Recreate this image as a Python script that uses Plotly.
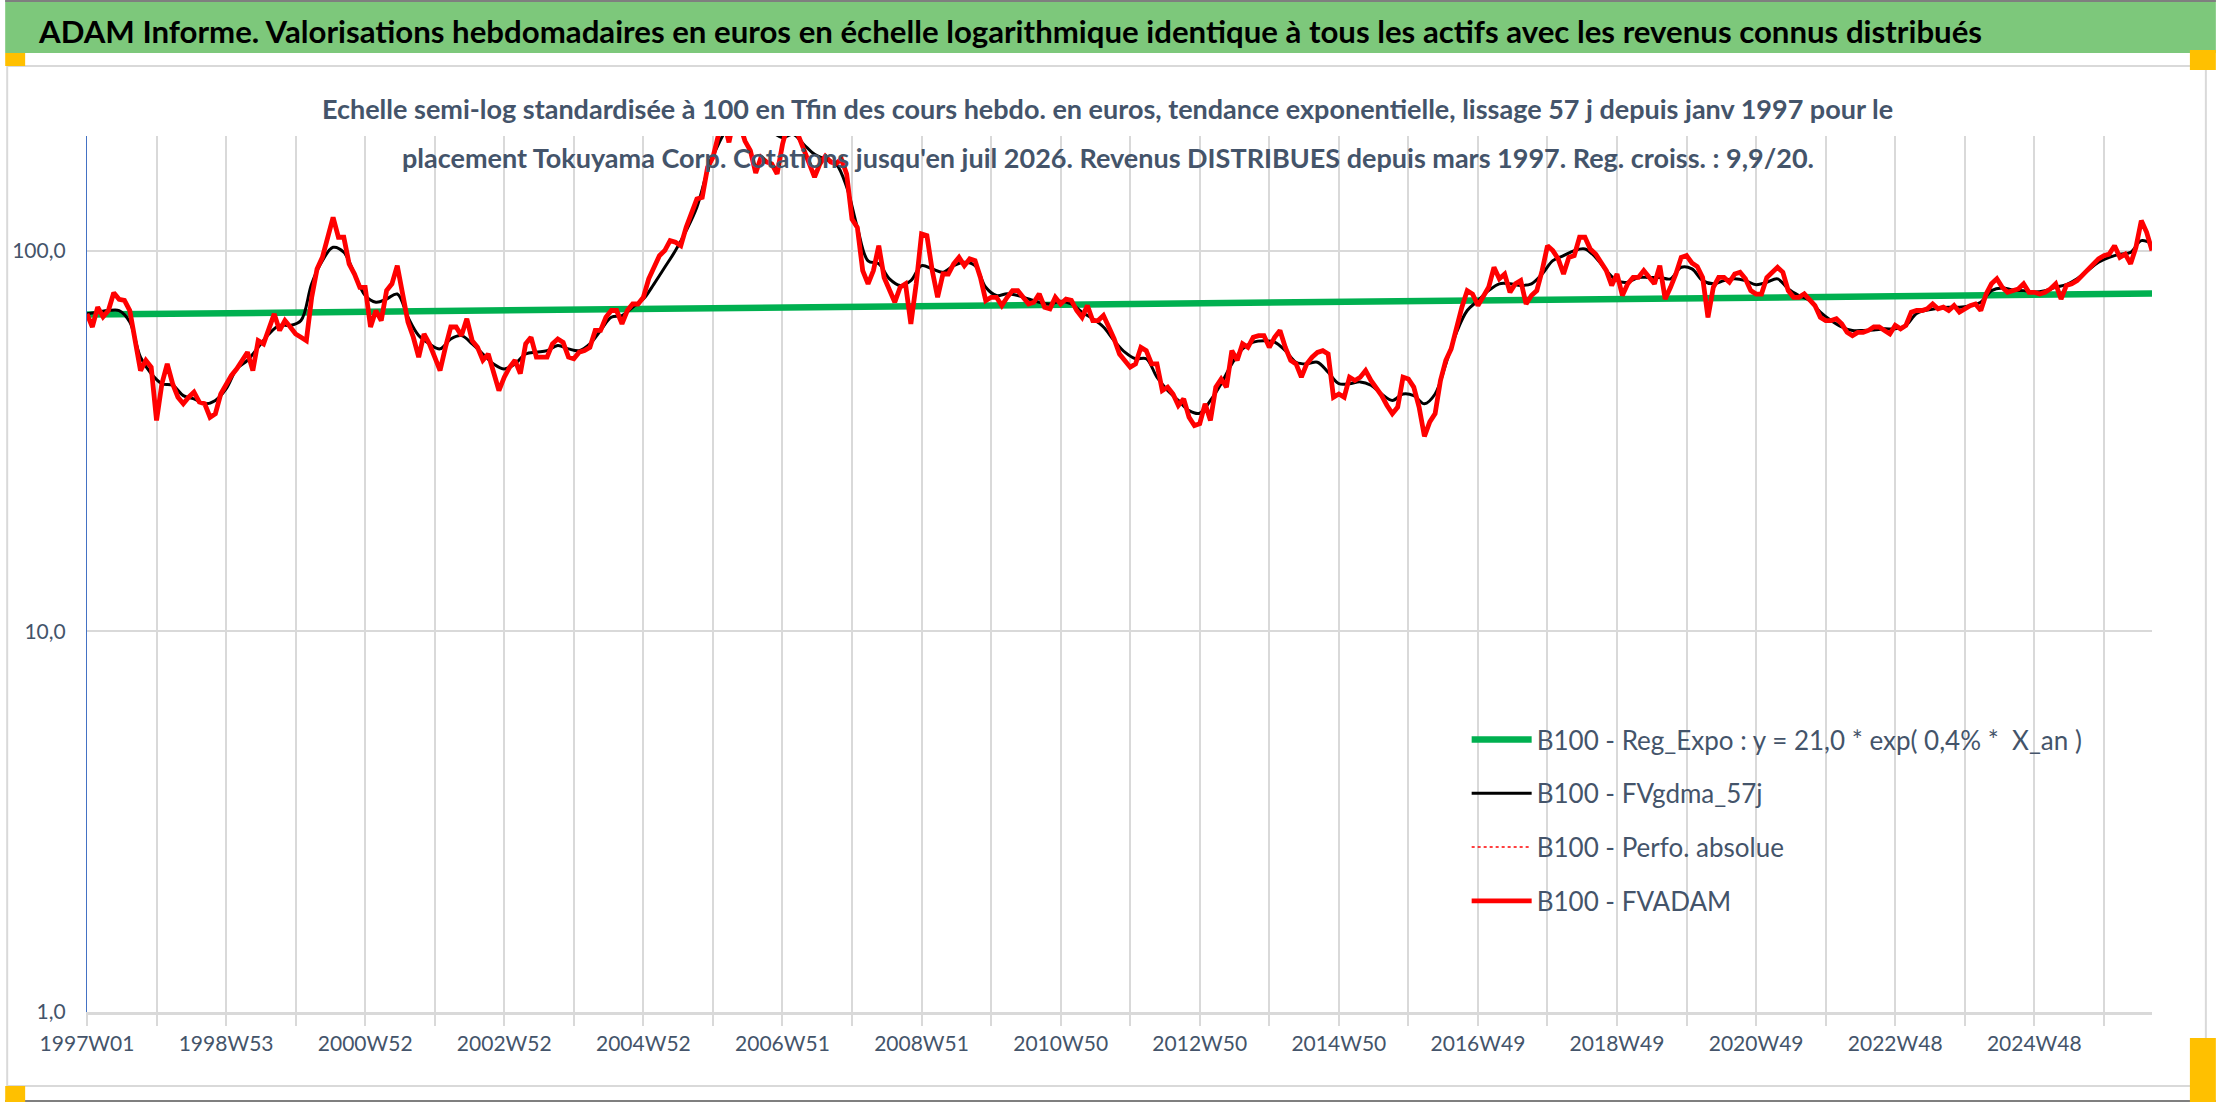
import math
import plotly.graph_objects as go

# week index 0 = 1997W01, one value every 4 weeks (FVADAM) / every 8 weeks (FVgdma_57j)
RED_STEP = 4
RED_VALUES = [
    68.2, 63, 71, 67, 69.6, 77.5, 74.5, 74, 69.6, 59,
    48.4, 51.5, 49.4, 35.8, 44.7, 50.4, 44.7, 41.2, 39.6, 41.2,
    42.5, 40, 39.6, 36.5, 37.3, 42, 44.7, 47, 48.9, 51.5,
    54.1, 48.4, 58, 56.9, 62.3, 68.2, 61.7, 65.5, 63, 60.4,
    59.2, 58, 75.4, 89.5, 96, 108.4, 122.3, 108.4, 108.4, 92.3,
    86.8, 80.1, 80.1, 63, 69.6, 65.5, 78.5, 81.8, 91.3, 76.9,
    64.9, 59.2, 52.5, 60.4, 56.9, 52.5, 48.4, 55.7, 63, 63,
    59.8, 66.2, 58, 55.7, 51.5, 53.5, 48.4, 42.9, 46.5, 49.4,
    51.5, 47.5, 56.9, 59.2, 52.5, 52.5, 52.5, 56.9, 58.6, 57.4,
    52.5, 52, 54.1, 54.6, 55.7, 61.7, 61.7, 66.8, 69.6,
    69.6, 64.2, 69.6, 72.4, 72.4, 75.4,
    84.3, 90.4, 97, 100, 106.2, 105.2, 103, 115.1, 124.8, 136.7,
    138, 165.6, 175.8, 200.4, 220, 192.5, 225, 215, 194, 183,
    160, 175.8, 171, 169, 159, 190, 215, 218, 200, 183,
    169, 156, 169, 177, 171, 169, 174, 159, 121, 115,
    88.6, 81.8, 88.6, 103, 85, 78.5, 73.2, 80.1, 81.8, 64.2,
    81.8, 110.6, 109.5, 88.6, 75.4, 86.8, 86.8, 92.3, 96, 91.3,
    95.1, 94.1, 85, 73.9, 75.4, 75.4, 71.7, 75.4, 78.5, 78.5,
    75.4, 72.4, 73.2, 77, 71, 70.3, 75.4, 72.4, 74.6, 74,
    69.6, 66.8, 71.7, 65.5, 65.5, 67.5, 63, 58.6, 53.5, 51.5, 49.4,
    50.4, 55.7, 54.6, 50.4, 50.4, 42.9, 43.8, 42, 39.2, 40.8,
    36.5, 34.7, 35.1, 39.6, 35.8, 43.8, 46, 43.8, 54.6, 51.5,
    56.9, 55.7, 59.2, 59.8, 59.8, 55.7, 59.2, 61.7, 55.7, 51.5,
    50.4, 46.5, 50.4, 52.5, 54, 54.6, 53.5, 41.2, 42, 41.2,
    46.5, 45.6, 46.5, 48.4, 45.6, 43.8, 41.6, 39.2, 37.3, 38.8,
    46.5, 46, 43.8, 38.8, 32.5, 35.5, 37.3, 45.6, 51.5, 55.2,
    63, 71, 78.5, 76.9, 71.7, 75.4, 80.1, 90.4, 84.3, 86.8,
    77.7, 81.8, 83.4, 72.4, 76.2, 78.5, 88.6, 103, 100, 95.1,
    86.8, 96, 97, 108.4, 108.4, 101, 98, 93.2, 88.6, 81,
    86.8, 76.2, 81.8, 85, 85, 88.6, 85,
    81.8, 91.3, 74.6, 80.1, 86.8, 96, 97, 92.8, 90.8, 85,
    66.8, 80.1, 85, 85, 82.6, 86.8, 87.7, 84.3, 78.5, 76.9,
    76.9, 85, 87.7, 90.4, 87.7, 78.5, 75.4, 75.4, 77, 74.6,
    71.7, 66.8, 65.5, 65.5, 66.2, 64.2, 61, 59.8, 61, 61,
    61.7, 63, 63, 61.7, 60.4, 63.6, 62.3, 63.6, 68.9, 69.6,
    69.6, 70.3, 72.4, 70.3, 71, 69.6, 71.7, 68.9, 70.3, 71.7,
    72.4, 69.6, 76.9, 81.8, 84.3, 80.1, 77.7, 78.5, 79.3, 81.8,
    77.7, 77.7, 76.9, 77.7, 79.3, 81.8, 74.6, 81, 81.8, 83.4,
    86, 89.5, 92.3, 95.1, 97, 97.9, 103, 96, 97.9, 92.3,
    102, 119.9, 111.7, 100,
]

BLACK_STEP = 8
BLACK_VALUES = [
    68.2, 68.9, 69.6, 69.6, 64.9, 52.5, 47.5, 44.7, 44.3, 41.6,
    40.8, 39.6, 40.4, 43.3, 48.9, 51.5, 55.7, 60.4, 63.6, 63.6,
    65.5, 81.8, 94.1, 102, 99, 86.8, 76.2, 73.2, 74.6, 76.9,
    66.8, 59.8, 56.9, 55.2, 58.6, 59.8, 56.9, 53.5, 50.4, 48.9,
    50.4, 53.5, 54.1, 54.6, 56.3, 55.2, 54.6, 56.9, 61.7, 66.8,
    67.5, 71, 74.6, 81.8, 90.4, 100, 112.8, 130, 162, 190,
    212, 220, 215, 210, 205, 198, 202, 190, 179, 174,
    169, 147, 115, 94, 92.3, 84.3, 81, 83.4, 91.3, 89.5,
    87.7, 91.3, 93.2, 91.3, 80.1, 76.2, 77, 76.2, 74.6, 73.2,
    72.4, 73.6, 72.4, 68.9, 66.2, 63, 58, 54.1,
    52, 52, 46.5, 42.9, 40.4, 38, 37.4, 40.4, 44.7, 50.4,
    55.2, 57.5, 58, 57.5, 54.6, 50.9, 50.4, 50.9, 47.9, 44.7,
    44.7, 45.2, 44.3, 42, 40.4, 42, 41.6, 39.6, 42, 50.4,
    61, 69.6, 73.9, 78.5, 81.8, 81.8, 81, 81.8, 86.8, 94.1,
    97, 100, 101, 96, 88.6, 83.4, 82.6, 85, 85,
    85, 84.3, 90.4, 89.5, 83.4, 81.8, 83.4, 84.3, 83.4, 81.4,
    82.6, 84.3, 79.3, 76.2, 73.9, 68.9, 65.5, 63, 61.7, 61.7,
    61.9, 62.3, 62.3, 63.6, 68.4, 69.8, 70.6, 71, 71, 71.7,
    73.2, 78.5, 79.8, 78.8, 78.5, 77.9, 78.5, 80.1, 81.4, 84.3,
    88.6, 93.2, 96, 97.9, 98.9, 106.2, 104.1,
]

# regression line: first and last week
GREEN_WEEKS = [0, 1544]
GREEN_VALUES = [67.9, 77.1]

N_WEEKS = 1544
TICK_LABELS = ["1997W01", "1998W53", "2000W52", "2002W52", "2004W52", "2006W51",
               "2008W51", "2010W50", "2012W50", "2014W50", "2016W49", "2018W49",
               "2020W49", "2022W48", "2024W48"]
Y_TICKS = [1, 10, 100]
Y_TICK_TEXT = ["1,0", "10,0", "100,0"]

TITLE = ("ADAM Informe. Valorisations hebdomadaires en euros en échelle logarithmique "
         "identique à tous les actifs avec les revenus connus distribués")
SUB_1 = ("Echelle semi-log standardisée à 100 en Tfin des cours hebdo. en euros, tendance "
         "exponentielle, lissage 57 j depuis janv 1997 pour le")
SUB_2 = ("placement Tokuyama Corp. Cotations jusqu'en juil 2026. Revenus DISTRIBUES depuis "
         "mars 1997. Reg. croiss. : 9,9/20.")

W, H = 2216, 1102
L, R, T, B = 82, 64, 136, 90
TXT = "#44546A"
FONT = "Lato"


def px_x(p):
    return (p - L) / (W - L - R)


def px_y(p):
    return (H - B - p) / (H - T - B)


red_x = [i * RED_STEP for i in range(len(RED_VALUES))]
black_x = [i * BLACK_STEP for i in range(len(BLACK_VALUES))]

fig = go.Figure()
fig.add_trace(go.Scatter(x=GREEN_WEEKS, y=GREEN_VALUES, mode="lines",
                         line=dict(color="#00B050", width=6.5),
                         name="B100 - Reg_Expo : y = 21,0 * exp( 0,4% * \u00a0X_an )",
                         legendgroup="a"))
fig.add_trace(go.Scatter(x=black_x, y=BLACK_VALUES, mode="lines",
                         line=dict(color="#000000", width=3, shape="spline"),
                         name="B100 - FVgdma_57j", legendgroup="b"))
fig.add_trace(go.Scatter(x=red_x, y=RED_VALUES, mode="lines",
                         line=dict(color="#FF0000", width=1.5, dash="dot"),
                         name="B100 - Perfo. absolue", legendgroup="c"))
fig.add_trace(go.Scatter(x=red_x, y=RED_VALUES, mode="lines",
                         line=dict(color="#FF0000", width=4.8),
                         name="B100 - FVADAM", legendgroup="d"))

tickvals = list(range(0, N_WEEKS, 52))
ticktext = [TICK_LABELS[i // 2] if i % 2 == 0 and i // 2 < len(TICK_LABELS) else ""
            for i in range(len(tickvals))]

fig.update_xaxes(range=[0, N_WEEKS], tickvals=tickvals, ticktext=ticktext,
                 showgrid=True, gridcolor="#D9D9D9", gridwidth=1.5,
                 ticks="outside", ticklen=11, tickcolor="#D9D9D9", tickwidth=1.5,
                 showline=True, linecolor="#D9D9D9", linewidth=2.5,
                 tickangle=0, tickfont=dict(family=FONT, size=21, color=TXT))
fig.update_yaxes(type="log", range=[0, math.log10(200)], tickvals=Y_TICKS,
                 ticktext=Y_TICK_TEXT, showgrid=True, gridcolor="#D9D9D9", gridwidth=1.5,
                 showline=True, linecolor="#4472C4", linewidth=1.2,
                 ticks="outside", ticklen=16, tickcolor="rgba(0,0,0,0)",
                 tickfont=dict(family=FONT, size=21, color=TXT))

shapes = [
    # green title band
    dict(type="rect", xref="paper", yref="paper", x0=px_x(0), x1=px_x(W),
         y0=px_y(53), y1=px_y(0), fillcolor="#7DC87B", line=dict(width=0), layer="below"),
    dict(type="rect", xref="paper", yref="paper", x0=px_x(0), x1=px_x(W),
         y0=px_y(2), y1=px_y(0), fillcolor="#7F7F7F", line=dict(width=0)),
    # chart area border
    dict(type="rect", xref="paper", yref="paper", x0=px_x(2), x1=px_x(2206),
         y0=px_y(1086), y1=px_y(66), line=dict(color="#D9D9D9", width=2), layer="below"),
    dict(type="rect", xref="paper", yref="paper", x0=px_x(0), x1=px_x(W),
         y0=px_y(H), y1=px_y(1100), fillcolor="#7F7F7F", line=dict(width=0)),
]
# selection handles
for x0, x1, y0, y1 in [(0, 20, 53, 66), (2190, W, 50, 70), (0, 20, 1086, H), (2190, W, 1038, H)]:
    shapes.append(dict(type="rect", xref="paper", yref="paper", x0=px_x(x0), x1=px_x(x1),
                       y0=px_y(y1), y1=px_y(y0), fillcolor="#FFC000", line=dict(width=0)))

annotations = [
    dict(text="<b>" + TITLE + "</b>", xref="paper", yref="paper", x=px_x(31), y=px_y(31),
         xanchor="left", yanchor="middle", showarrow=False,
         font=dict(family=FONT, size=31.2, color="#000000")),
    dict(text="<b>" + SUB_1 + "</b>", xref="paper", yref="paper", x=px_x(1105), y=px_y(109),
         xanchor="center", yanchor="middle", showarrow=False,
         font=dict(family=FONT, size=27, color=TXT)),
    dict(text="<b>" + SUB_2 + "</b>", xref="paper", yref="paper", x=px_x(1105), y=px_y(157),
         xanchor="center", yanchor="middle", showarrow=False,
         font=dict(family=FONT, size=27, color=TXT)),
]

fig.update_layout(
    width=W, height=H,
    margin=dict(l=L, r=R, t=T, b=B),
    paper_bgcolor="white", plot_bgcolor="white",
    shapes=shapes, annotations=annotations,
    legend=dict(x=px_x(1465), y=px_y(716), xanchor="left", yanchor="top",
                traceorder="grouped", tracegroupgap=17, itemwidth=60,
                bgcolor="rgba(0,0,0,0)",
                font=dict(family=FONT, size=26, color=TXT)),
    showlegend=True,
)

# page body margin to zero so the figure fills the window
fig.write_html("out.html", config={"displayModeBar": False},
               post_script="document.body.style.margin='0px';")
